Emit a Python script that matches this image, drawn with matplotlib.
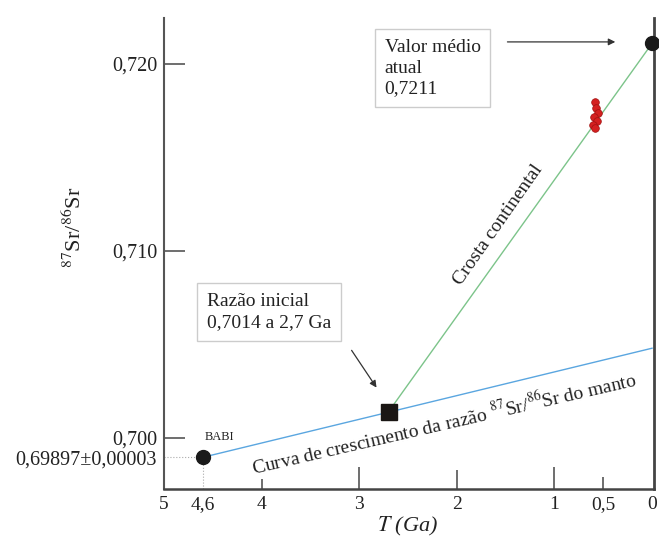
import numpy as np
import matplotlib
matplotlib.use('Agg')
import matplotlib.pyplot as plt

plt.rcParams['font.family'] = ['Liberation Serif', 'DejaVu Serif']
plt.rcParams['mathtext.fontset'] = 'stix'

# Data
babi_t, babi_sr = 4.6, 0.69897
init_t, init_sr = 2.7, 0.7014
today_t, today_sr = 0.0, 0.7211
mantle_today_sr = 0.7048
red_t = [0.584, 0.574, 0.553, 0.594, 0.564, 0.605, 0.584]
red_sr = [0.71797, 0.71765, 0.71738, 0.71717, 0.71695, 0.71674, 0.71658]

x_ticks = [5, 4.6, 4, 3, 2, 1, 0.5, 0]
x_labels = ['5', '4,6', '4', '3', '2', '1', '0,5', '0']
x_tick_len = [0, 0, 7, 16, 14, 16, 9, 0]
y_ticks = [0.69897, 0.700, 0.710, 0.720]
y_labels = ['0,69897±0,00003', '0,700', '0,710', '0,720']
y_tick_len = [0, 15, 15, 15]

fig = plt.figure(figsize=(6.59, 5.43), dpi=100)
ax = fig.add_axes([0.2489, 0.0994, 0.7435, 0.8675])
ax.set_xlim(5, -0.02)
ax.set_ylim(0.69727, 0.72246)

# mantle growth curve
ax.plot([babi_t, 0], [babi_sr, mantle_today_sr], color='#5aa6e0', lw=1.0, zorder=2)
# continental crust
ax.plot([init_t, today_t], [init_sr, today_sr], color='#7cc48a', lw=1.0, zorder=2)

# dotted guides for BABI
ax.plot([5, babi_t], [babi_sr, babi_sr], ls=':', color='#aaaaaa', lw=0.8)
ax.plot([babi_t, babi_t], [0.69727, babi_sr], ls=':', color='#aaaaaa', lw=0.8)

ax.plot(babi_t, babi_sr, 'o', color='#1a1a1a', ms=10, zorder=4)
ax.plot(init_t, init_sr, 's', color='#1a1614', ms=11, zorder=4)
ax.plot(today_t, today_sr, 'o', color='#1a1a1a', ms=10, zorder=5, clip_on=False)
ax.plot(red_t, red_sr, 'o', color='#d42020', mec='#a01010', mew=0.5, ms=5.5, zorder=4)

ax.text(4.43, 0.70005, 'BABI', fontsize=9, ha='center', va='center', color='#222222')

ax.text(1.58, 0.71139, 'Crosta continental', fontsize=14, rotation=55,
        ha='center', va='center', color='#222222', rotation_mode='anchor')
ax.text(2.13, 0.70080, 'Curva de crescimento da razão $^{87}$Sr/$^{86}$Sr do manto',
        fontsize=14, rotation=13.0, ha='center', va='center', color='#222222',
        rotation_mode='anchor')

box = dict(boxstyle='square,pad=0.5', fc='white', ec='#cccccc', lw=1.0)
ax.text(2.74, 0.72135, 'Valor médio\natual\n0,7211', fontsize=14, ha='left', va='top',
        linespacing=1.3, color='#222222', bbox=box)
ax.text(4.56, 0.70775, 'Razão inicial\n0,7014 a 2,7 Ga', fontsize=14, ha='left', va='top',
        linespacing=1.3, color='#222222', bbox=box)

ax.annotate('', xy=(0.348, 0.72118), xytext=(1.51, 0.72118),
            arrowprops=dict(arrowstyle='-|>', color='#333333', lw=0.9, mutation_scale=10))
ax.annotate('', xy=(2.807, 0.70257), xytext=(3.094, 0.70481),
            arrowprops=dict(arrowstyle='-|>', color='#333333', lw=0.9, mutation_scale=10))

ax.set_xticks(x_ticks)
ax.set_xticklabels(x_labels, fontsize=14, color='#222222')
ax.set_yticks(y_ticks)
ax.set_yticklabels(y_labels, fontsize=14.5, color='#222222')
ax.tick_params(axis='both', direction='in', color='#555555', width=1.2, pad=5)
for t, L in zip(ax.xaxis.get_major_ticks(), x_tick_len):
    t.tick1line.set_markersize(L)
for t, L in zip(ax.yaxis.get_major_ticks(), y_tick_len):
    t.tick1line.set_markersize(L)

ax.spines['top'].set_visible(False)
ax.spines['left'].set_color('#555555')
ax.spines['left'].set_linewidth(1.5)
ax.spines['bottom'].set_color('#444444')
ax.spines['bottom'].set_linewidth(1.8)
ax.spines['right'].set_color('#444444')
ax.spines['right'].set_linewidth(2)

ax.set_xlabel('$T$ (Ga)', fontsize=16, fontstyle='italic', color='#222222')
ax.xaxis.set_label_coords(0.498, -0.055)
ax.set_ylabel('$^{87}$Sr/$^{86}$Sr', fontsize=16, color='#222222')
ax.yaxis.set_label_coords(-0.16, 0.556)

fig.savefig('out.png', dpi=100)
